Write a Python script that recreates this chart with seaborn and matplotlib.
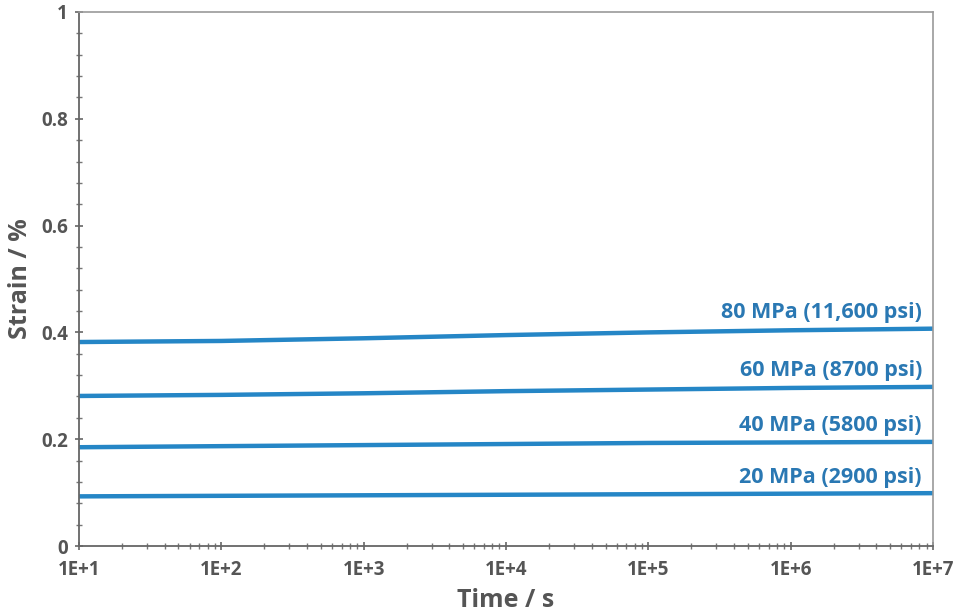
import numpy as np
import pandas as pd
import seaborn as sns
import matplotlib.pyplot as plt
from matplotlib.ticker import FuncFormatter, LogLocator, MultipleLocator, NullFormatter

# Data
time_s = [1e1, 1e2, 1e3, 1e4, 1e5, 1e6, 1e7]
strain_20 = [0.093, 0.094, 0.095, 0.096, 0.097, 0.098, 0.099]
strain_40 = [0.185, 0.187, 0.189, 0.191, 0.193, 0.194, 0.195]
strain_60 = [0.281, 0.283, 0.286, 0.290, 0.293, 0.296, 0.298]
strain_80 = [0.382, 0.384, 0.389, 0.395, 0.400, 0.404, 0.407]
labels = ["20 MPa (2900 psi)", "40 MPa (5800 psi)",
          "60 MPa (8700 psi)", "80 MPa (11,600 psi)"]

series = [strain_20, strain_40, strain_60, strain_80]
df = pd.concat([pd.DataFrame({"time": time_s, "strain": s, "load": lab})
                for s, lab in zip(series, labels)], ignore_index=True)

sns.set_style("white")
plt.rcParams['font.family'] = ['Open Sans', 'DejaVu Sans']

line_color = "#2586c6"
text_color = "#2a78b3"

fig = plt.figure(figsize=(9.62, 6.14), dpi=100)
ax = fig.add_axes([0.0821, 0.1107, 0.8878, 0.8698])

sns.lineplot(data=df, x="time", y="strain", hue="load",
             palette=[line_color] * 4, linewidth=3.2, legend=False, ax=ax)

ax.set_xscale("log")
ax.set_xlim(1e1, 1e7)
ax.set_ylim(0, 1)

# labels above the right end of each line
for s, lab in zip(series, labels):
    ax.annotate(lab, xy=(time_s[-1], s[-1]), xytext=(-8, 4),
                textcoords="offset points", ha="right", va="bottom",
                color=text_color, fontsize=15.5, fontweight="bold")

ax.xaxis.set_major_locator(LogLocator(base=10, numticks=10))
ax.xaxis.set_minor_locator(LogLocator(base=10, subs=np.arange(2, 10), numticks=10))
ax.xaxis.set_major_formatter(FuncFormatter(lambda v, p: "1E+%d" % round(np.log10(v))))
ax.xaxis.set_minor_formatter(NullFormatter())
ax.yaxis.set_major_locator(MultipleLocator(0.2))
ax.yaxis.set_minor_locator(MultipleLocator(0.04))
ax.yaxis.set_major_formatter(FuncFormatter(lambda v, p: "%g" % round(v, 2)))

ax.tick_params(axis="both", which="major", direction="inout", length=6,
               width=1.2, color="#666666", labelsize=13.5, labelcolor="#555555",
               bottom=True, left=True)
ax.tick_params(axis="both", which="minor", direction="inout", length=4,
               width=1, color="#777777", bottom=True, left=True)
ax.tick_params(axis="x", which="major", pad=7)
ax.tick_params(axis="y", which="major", pad=5)
for lbl in ax.get_xticklabels() + ax.get_yticklabels():
    lbl.set_fontweight("bold")

for side in ["left", "bottom"]:
    ax.spines[side].set_color("#666666")
    ax.spines[side].set_linewidth(1.3)
for side in ["top", "right"]:
    ax.spines[side].set_color("#9a9a9a")
    ax.spines[side].set_linewidth(1.2)

ax.set_xlabel("Time / s", fontsize=18, fontweight="bold", color="#555555", labelpad=6)
ax.set_ylabel("Strain / %", fontsize=18, fontweight="bold", color="#555555", labelpad=6)

fig.savefig("out.png", dpi=100)
